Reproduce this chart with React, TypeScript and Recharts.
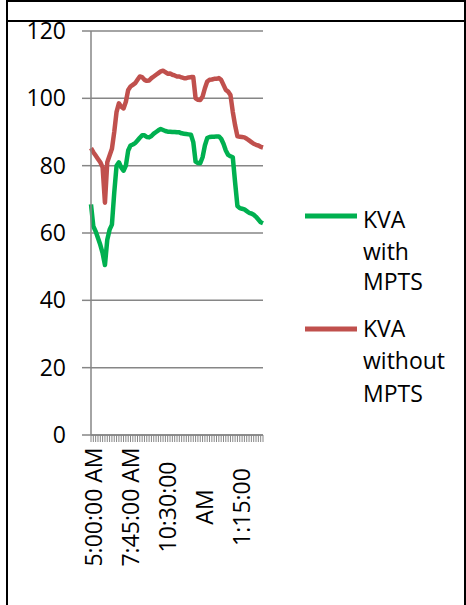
import React from 'react';
import { LineChart, Line, XAxis, YAxis, CartesianGrid } from 'recharts';

// KVA readings, one per sample (75 samples across the day)
const KVA_WITH_MPTS = [
  68.5, 62, 60.5, 58.5, 56.5, 54, 50.5, 58, 61, 62.5,
  72, 80, 81, 79.5, 78.5, 80, 84.5, 86, 86.3, 86.7,
  87.5, 88.3, 89, 89, 88.5, 88.4, 88.8, 89.5, 90, 90.5,
  90.9, 90.6, 90.3, 90.1, 90.1, 90, 90, 89.9, 89.9, 89.6,
  89.5, 89.4, 89.3, 89.2, 87, 81.2, 80.8, 80.7, 82.5, 86,
  88.2, 88.5, 88.6, 88.6, 88.7, 88.7, 88, 86.5, 84.5, 83.2,
  82.8, 82.5, 75, 68, 67.4, 67.2, 67, 66.5, 66, 65.8,
  65.4, 64.8, 64, 63.2, 62.9,
];

const KVA_WITHOUT_MPTS = [
  85.2, 84, 83, 82, 81, 79.5, 69, 81, 83, 85,
  90, 96, 98.5, 97.5, 97, 99, 102.5, 103.5, 104, 104.5,
  105.5, 106.5, 106.3, 105.5, 105.2, 105.3, 106, 106.5, 107, 107.5,
  108, 108.2, 107.8, 107.3, 107.4, 107, 106.8, 106.5, 106.5, 106.2,
  106, 106, 106.2, 106.3, 106.3, 100, 99.6, 99.5, 100.5, 103,
  105, 105.5, 105.6, 105.8, 105.8, 106, 105.5, 104, 102.5, 102,
  101, 96, 92, 88.7, 88.6, 88.5, 88.4, 88, 87.5, 87,
  86.5, 86.2, 86, 85.6, 85.4,
];

// category positions that carry a visible label, and what they show
const LABEL_INDEXES = [0, 16, 32, 48, 64];
const LABEL_TEXTS = ['5:00:00 AM', '7:45:00 AM', '10:30:00', 'AM', '1:15:00'];

const Y_TICKS = [0, 20, 40, 60, 80, 100, 120];

const SERIES = [
  { key: 'withMpts', name: 'KVA with MPTS', color: '#00B050' },
  { key: 'withoutMpts', name: 'KVA without MPTS', color: '#C0504D' },
];

const data = KVA_WITH_MPTS.map((v, i) => ({
  i,
  withMpts: v,
  withoutMpts: KVA_WITHOUT_MPTS[i],
}));

const FONT = "'Open Sans', sans-serif";
const AXIS_GRAY = '#868686';

const XTick = (props: any) => {
  const { x, payload } = props;
  const k = LABEL_INDEXES.indexOf(payload.value);
  if (k < 0) return <g />;
  const cx = x + 1.5;
  const cy = 507;
  return (
    <text
      x={cx}
      y={cy}
      transform={`rotate(-90 ${cx} ${cy})`}
      textAnchor="middle"
      dominantBaseline="central"
      fontSize={23}
      fontFamily={FONT}
      fill="#000"
    >
      {LABEL_TEXTS[k]}
    </text>
  );
};

const legendRows = [
  { lineY: 216, baselines: [228, 260, 290] },
  { lineY: 329, baselines: [337, 369, 402] },
];

export default function App() {
  return (
    <div
      style={{
        position: 'absolute',
        left: 0,
        top: 0,
        width: 466,
        height: 605,
        overflow: 'hidden',
        background: '#fff',
      }}
    >
      {/* outer frame */}
      <div
        style={{
          position: 'absolute',
          left: 6,
          top: 0,
          width: 460,
          height: 640,
          boxSizing: 'border-box',
          borderLeft: '2px solid #000',
          borderTop: '2px solid #000',
          borderRight: '2px solid #000',
        }}
      />
      <div style={{ position: 'absolute', left: 6, top: 20, width: 460, height: 2, background: '#000' }} />

      <div style={{ position: 'absolute', left: 0, top: 0 }}>
        <LineChart
          width={466}
          height={605}
          data={data}
          margin={{ top: 31, right: 203, left: 0, bottom: 0 }}
        >
          <CartesianGrid vertical={false} stroke={AXIS_GRAY} strokeWidth={1.5} />
          <XAxis
            dataKey="i"
            interval={0}
            height={170}
            tickSize={7}
            axisLine={{ stroke: AXIS_GRAY, strokeWidth: 1.5 }}
            tickLine={{ stroke: AXIS_GRAY, strokeWidth: 1 }}
            tick={<XTick />}
          />
          <YAxis
            width={91}
            domain={[0, 120]}
            ticks={Y_TICKS}
            interval={0}
            tickSize={9}
            tickMargin={16}
            axisLine={{ stroke: AXIS_GRAY, strokeWidth: 1.5 }}
            tickLine={{ stroke: AXIS_GRAY, strokeWidth: 1.5 }}
            tick={{ fill: '#000', fontSize: 23, fontFamily: FONT }}
          />
          {SERIES.map((s) => (
            <Line
              key={s.key}
              type="linear"
              dataKey={s.key}
              name={s.name}
              stroke={s.color}
              strokeWidth={4.5}
              strokeLinejoin="round"
              dot={false}
              isAnimationActive={false}
            />
          ))}
        </LineChart>
      </div>

      {/* legend */}
      <svg
        width={466}
        height={605}
        style={{ position: 'absolute', left: 0, top: 0, pointerEvents: 'none' }}
      >
        {SERIES.map((s, idx) => {
          const row = legendRows[idx];
          return (
            <g key={s.key}>
              <line x1={305} x2={357} y1={row.lineY} y2={row.lineY} stroke={s.color} strokeWidth={5} />
              {s.name.split(' ').map((word, j) => (
                <text key={j} x={363} y={row.baselines[j]} fontSize={23} fontFamily={FONT} fill="#000">
                  {word}
                </text>
              ))}
            </g>
          );
        })}
      </svg>
    </div>
  );
}
